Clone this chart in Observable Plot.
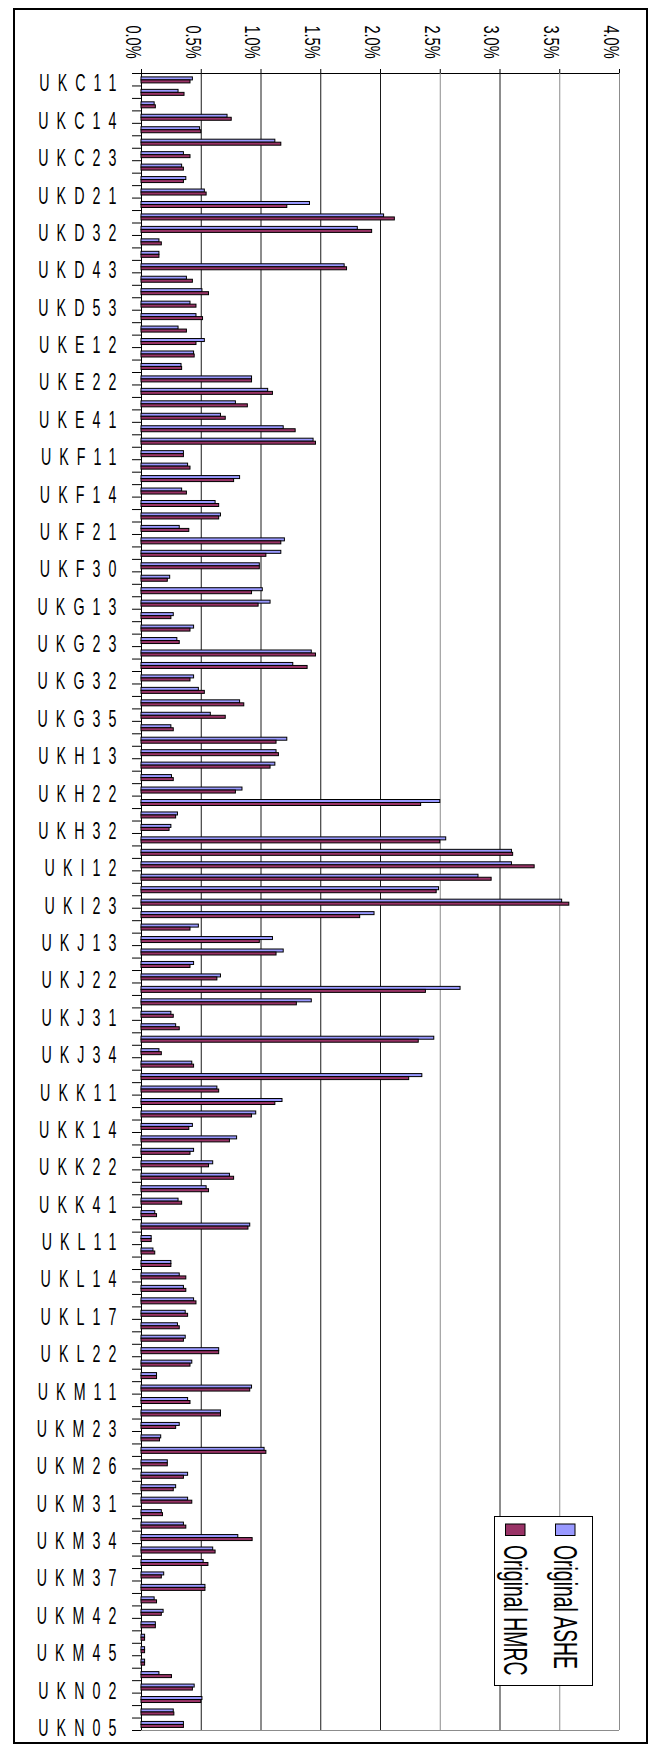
<!DOCTYPE html>
<html>
<head>
<meta charset="utf-8">
<script src="https://cdn.jsdelivr.net/npm/d3@7"></script>
<script src="https://cdn.jsdelivr.net/npm/@observablehq/plot@0.6"></script>
<style>
html, body { margin: 0; padding: 0; background: #fff; overflow: hidden; }
#chart { position: relative; width: 655px; height: 1746px; }
</style>
</head>
<body>
<div id="chart"></div>
<script>
// ---------- DATA ----------
const categories = [
  "UKC11","UKC12","UKC13","UKC14","UKC21","UKC22","UKC23",
  "UKD11","UKD12","UKD21","UKD22","UKD31","UKD32","UKD41","UKD42","UKD43","UKD51","UKD52","UKD53","UKD54",
  "UKE11","UKE12","UKE13","UKE21","UKE22","UKE31","UKE32","UKE41","UKE42","UKE43",
  "UKF11","UKF12","UKF13","UKF14","UKF15","UKF16","UKF21","UKF22","UKF23","UKF30",
  "UKG11","UKG12","UKG13","UKG21","UKG22","UKG23","UKG24","UKG31","UKG32","UKG33","UKG34","UKG35",
  "UKH11","UKH12","UKH13","UKH14","UKH21","UKH22","UKH23","UKH31","UKH32","UKH33",
  "UKI11","UKI12","UKI21","UKI22","UKI23",
  "UKJ11","UKJ12","UKJ13","UKJ14","UKJ21","UKJ22","UKJ23","UKJ24","UKJ31","UKJ32","UKJ33","UKJ34","UKJ41","UKJ42",
  "UKK11","UKK12","UKK13","UKK14","UKK15","UKK21","UKK22","UKK23","UKK30","UKK41","UKK42","UKK43",
  "UKL11","UKL12","UKL13","UKL14","UKL15","UKL16","UKL17","UKL18","UKL21","UKL22","UKL23","UKL24",
  "UKM11","UKM21","UKM22","UKM23","UKM24","UKM25","UKM26","UKM27","UKM28",
  "UKM31","UKM32","UKM33","UKM34","UKM35","UKM36","UKM37","UKM38",
  "UKM41","UKM42","UKM43","UKM44","UKM45","UKM46",
  "UKN01","UKN02","UKN03","UKN04","UKN05"
];

const shownLabels = [
  "UKC11","UKC14","UKC23","UKD21","UKD32","UKD43","UKD53","UKE12","UKE22","UKE41",
  "UKF11","UKF14","UKF21","UKF30","UKG13","UKG23","UKG32","UKG35","UKH13","UKH22",
  "UKH32","UKI12","UKI23","UKJ13","UKJ22","UKJ31","UKJ34","UKK11","UKK14","UKK22",
  "UKK41","UKL11","UKL14","UKL17","UKL22","UKM11","UKM23","UKM26","UKM31","UKM34",
  "UKM37","UKM42","UKM45","UKN02","UKN05"
];

// values in percent
const asheValues = [
  0.43,0.31,0.11,0.72,0.49,1.12,0.355,
  0.34,0.375,0.53,1.41,2.03,1.81,0.15,0.15,1.70,0.38,0.51,0.41,0.46,
  0.31,0.53,0.44,0.335,0.925,1.06,0.79,0.665,1.19,1.44,
  0.355,0.39,0.825,0.34,0.62,0.665,0.32,1.20,1.17,0.99,
  0.24,1.015,1.08,0.27,0.44,0.30,1.425,1.27,0.44,0.48,0.825,0.58,
  0.25,1.22,1.13,1.12,0.255,0.845,2.50,0.305,0.25,2.55,
  3.10,3.10,2.82,2.49,3.52,
  1.95,0.48,1.10,1.19,0.44,0.665,2.67,1.425,0.25,0.29,2.45,0.15,0.425,2.35,
  0.635,1.18,0.96,0.43,0.80,0.44,0.60,0.74,0.545,0.31,0.115,0.91,
  0.085,0.10,0.25,0.32,0.355,0.44,0.37,0.305,0.37,0.65,0.425,0.13,
  0.925,0.39,0.665,0.32,0.165,1.03,0.22,0.39,0.29,
  0.39,0.17,0.355,0.81,0.60,0.52,0.19,0.535,
  0.11,0.185,0.12,0.03,0.03,0.03,
  0.15,0.445,0.51,0.27,0.355
];

const hmrcValues = [
  0.41,0.36,0.12,0.755,0.50,1.17,0.41,
  0.355,0.355,0.545,1.22,2.12,1.93,0.17,0.15,1.72,0.43,0.565,0.46,0.515,
  0.38,0.46,0.445,0.34,0.925,1.10,0.89,0.705,1.29,1.46,
  0.355,0.41,0.775,0.38,0.65,0.65,0.40,1.17,1.045,0.99,
  0.22,0.925,0.98,0.25,0.41,0.32,1.46,1.39,0.41,0.53,0.86,0.705,
  0.27,1.13,1.15,1.08,0.27,0.79,2.34,0.29,0.235,2.50,
  3.11,3.29,2.93,2.47,3.58,
  1.83,0.41,0.99,1.13,0.41,0.635,2.38,1.30,0.27,0.32,2.32,0.17,0.44,2.24,
  0.65,1.12,0.925,0.40,0.74,0.41,0.565,0.775,0.565,0.34,0.13,0.895,
  0.085,0.115,0.25,0.375,0.375,0.46,0.39,0.32,0.355,0.65,0.41,0.13,
  0.91,0.41,0.665,0.29,0.155,1.045,0.22,0.355,0.27,
  0.425,0.18,0.375,0.93,0.62,0.56,0.17,0.535,
  0.13,0.17,0.12,0.03,0.03,0.03,
  0.255,0.43,0.50,0.275,0.355
];

const xTickValues = [0, 0.5, 1, 1.5, 2, 2.5, 3, 3.5, 4];
const xTickLabels = ["0.0%","0.5%","1.0%","1.5%","2.0%","2.5%","3.0%","3.5%","4.0%"];
const series = ["Original ASHE", "Original HMRC"];
const seriesColors = ["#9999ff", "#993366"];

// ---------- CHART ----------
const W = 655, H = 1746, ML = 141, MR = 36, MT = 73, MB = 16;
const N = categories.length;
const band = (H - MT - MB) / N;
const FONT = '"Liberation Sans", Arial, Helvetica, sans-serif';

const rows = categories.map((code, i) => ({code, i, ashe: asheValues[i], hmrc: hmrcValues[i]}));
const labelRows = rows.filter(r => shownLabels.includes(r.code));
const ticks = xTickValues.map((v, k) => ({v, label: xTickLabels[k]}));
const grayTicks = [2.5, 3.5, 4];
const boundaries = d3.range(N + 1);

const svg = Plot.plot({
  width: W, height: H,
  marginLeft: ML, marginRight: MR, marginTop: MT, marginBottom: MB,
  style: {fontFamily: FONT, background: "white", color: "black", overflow: "visible"},
  x: {domain: [0, 4], axis: "top", ticks: xTickValues, tickSize: 5, tickFormat: () => "", label: null, line: true},
  y: {domain: [0, N], reverse: true, ticks: boundaries, tickSize: 9, tickFormat: () => "", label: null, line: true},
  marks: [
    Plot.ruleX(ticks.filter(t => t.v > 0 && !grayTicks.includes(t.v)), {x: "v", stroke: "#1a1a1a"}),
    Plot.ruleX(ticks.filter(t => grayTicks.includes(t.v)), {x: "v", stroke: "#8c8c8c"}),
    Plot.ruleY([N], {stroke: "#8c8c8c"}),
    Plot.rect(rows, {x1: 0, x2: "ashe", y1: "i", y2: r => r.i + 1,
      insetTop: 3.9, insetBottom: band - 6.9,
      fill: seriesColors[0], stroke: "#000", strokeWidth: 1}),
    Plot.rect(rows, {x1: 0, x2: "hmrc", y1: "i", y2: r => r.i + 1,
      insetTop: 6.9, insetBottom: band - 9.9,
      fill: seriesColors[1], stroke: "#000", strokeWidth: 1}),
    Plot.text(labelRows, {y: r => r.i + 0.5, text: "code", frameAnchor: "left",
      textAnchor: "end", dx: -17, dy: 4.35, fontSize: 23, fill: "#000"}),
    Plot.text(ticks, {x: "v", text: "label", frameAnchor: "top", rotate: 90,
      textAnchor: "start", dy: -48, fontSize: 22, fill: "#000"})
  ]
});

function squeeze(el, sx) {
  let tr = el.getAttribute("transform") || "";
  const x = el.getAttribute("x");
  if (x !== null && x !== "" && !isNaN(+x)) {
    tr += ` translate(${x},0)`;
    el.removeAttribute("x");
  }
  el.setAttribute("transform", tr + ` scale(${sx},1)`);
}

svg.querySelectorAll("text").forEach(el => {
  const t = el.textContent;
  if (shownLabels.includes(t)) {
    squeeze(el, 0.62);
    el.style.letterSpacing = "13px";
  } else if (xTickLabels.includes(t)) {
    squeeze(el, 0.66);
  }
});

// legend (inside plot area, rotated like the rest of the chart)
const s = d3.select(svg);
const lg = s.append("g").attr("font-family", FONT).attr("text-anchor", "start");
lg.append("rect").attr("x", 494.5).attr("y", 1516.5).attr("width", 98).attr("height", 169)
  .attr("fill", "white").attr("stroke", "#000");
series.forEach((name, k) => {
  const base = 554 - 50 * k;
  lg.append("rect").attr("x", base + 1.5).attr("y", 1524).attr("width", 19.5).attr("height", 11.5)
    .attr("fill", seriesColors[k]).attr("stroke", "#000");
  lg.append("text").attr("transform", `translate(${base},1545) rotate(90) scale(0.571,1)`)
    .attr("text-anchor", "start").attr("font-size", 34).attr("fill", "#000").text(name);
});

// chart-area border
s.append("rect").attr("x", 14).attr("y", 9).attr("width", 633).attr("height", 1734)
  .attr("fill", "none").attr("stroke", "#000").attr("stroke-width", 2);

document.getElementById("chart").appendChild(svg);
</script>
</body>
</html>
